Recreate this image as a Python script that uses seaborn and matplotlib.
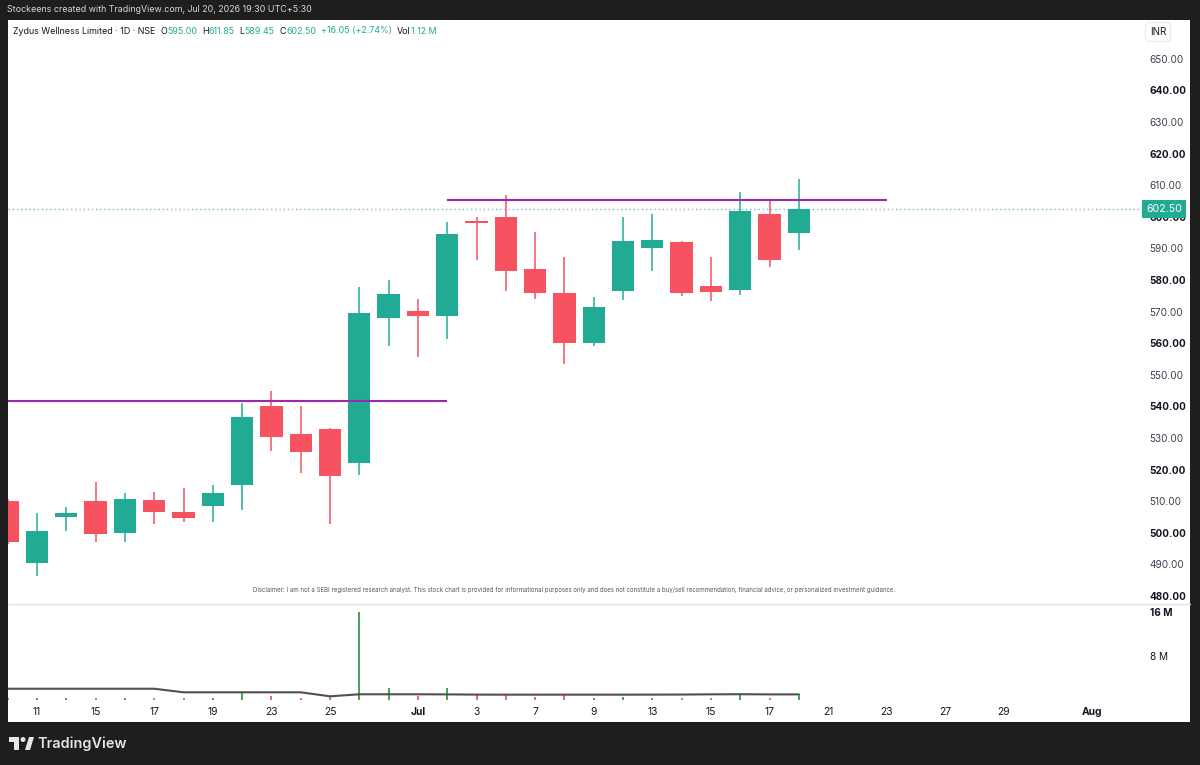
import numpy as np
import pandas as pd
import matplotlib
matplotlib.use("Agg")
import matplotlib.pyplot as plt
import seaborn as sns
from matplotlib import patches, transforms

# ---------------- data ----------------
credit = "Stockeens created with TradingView.com, Jul 20, 2026 19:30 UTC+5:30"
ticker = "Zydus Wellness Limited · 1D · NSE"
currency = "INR"
disclaimer = ("Disclaimer: I am not a SEBI registered research analyst. This stock chart is provided for "
              "informational purposes only and does not constitute a buy/sell recommendation, financial "
              "advice, or personalized investment guidance.")

holidays = ["2026-06-29"]
sessions = pd.bdate_range("2026-06-10", "2026-08-03").drop(pd.to_datetime(holidays))

opens  = [510.0, 490.4, 505.1, 510.2, 500.0, 510.3, 506.5, 508.5, 515.0, 540.2, 531.2, 532.9, 522.0, 568.1,
          570.1, 568.6, 598.7, 600.0, 583.5, 576.0, 560.0, 576.6, 590.1, 592.2, 578.0, 576.9, 600.8, 595.00]
highs  = [510.6, 506.2, 508.3, 516.2, 512.7, 513.0, 514.3, 515.1, 541.2, 545.0, 540.1, 533.2, 577.7, 580.0,
          574.0, 598.5, 600.0, 607.0, 595.1, 587.3, 574.8, 600.0, 601.0, 592.5, 587.3, 608.0, 605.4, 611.85]
lows   = [496.5, 486.4, 500.7, 497.0, 497.0, 502.8, 503.3, 503.5, 507.2, 526.0, 518.8, 502.8, 518.3, 559.2,
          555.5, 561.3, 586.3, 576.6, 574.0, 553.3, 559.2, 573.7, 583.0, 575.0, 573.4, 575.3, 584.1, 589.45]
closes = [497.0, 500.6, 506.3, 499.6, 510.6, 506.5, 504.8, 512.5, 536.7, 530.3, 525.6, 518.1, 569.5, 575.5,
          568.6, 594.6, 598.2, 583.0, 576.0, 560.0, 571.6, 592.5, 592.7, 576.0, 576.1, 602.0, 586.45, 602.50]
volumes_m = [0.35, 0.4, 0.35, 0.35, 0.35, 0.35, 0.35, 0.35, 1.35, 0.75, 0.4, 0.75, 16.0, 2.25,
             0.75, 2.2, 0.85, 1.0, 0.55, 1.0, 0.45, 0.6, 0.45, 0.3, 0.3, 0.85, 0.35, 1.12]
volume_ma_m = [2.05, 2.05, 2.05, 2.05, 2.05, 2.05, 1.4, 1.4, 1.4, 1.4, 1.4, 0.67, 1.04, 1.04,
               1.04, 1.02, 0.98, 0.97, 0.97, 0.97, 0.97, 0.97, 0.98, 0.99, 1.03, 1.05, 1.02, 1.02]

support_level = 541.7
support_span = ["2026-06-01", "2026-07-02"]
resistance_level = 605.4
resistance_span = ["2026-07-02", "2026-07-23"]

tick_dates = ["2026-06-11", "2026-06-15", "2026-06-17", "2026-06-19", "2026-06-23", "2026-06-25",
              "2026-07-01", "2026-07-03", "2026-07-07", "2026-07-09", "2026-07-13", "2026-07-15",
              "2026-07-17", "2026-07-21", "2026-07-23", "2026-07-27", "2026-07-29", "2026-08-03"]
tick_labels = ["11", "15", "17", "19", "23", "25", "Jul", "3", "7", "9", "13", "15", "17",
               "21", "23", "27", "29", "Aug"]
price_ticks = list(range(480, 651, 10))
volume_ticks_m = [8, 16]

# ---------------- styling ----------------
W, H = 1200, 765
UP, DOWN = "#22ab94", "#f7525f"
VUP, VDOWN = "#3a9b45", "#ef5b66"
DARK = "#1e1e1e"
INK = "#131722"
PURPLE = "#9c27b0"

sns.set_theme(style="white")
plt.rcParams["font.family"] = ["Inter", "DejaVu Sans"]

fig = plt.figure(figsize=(W / 100, H / 100), dpi=100, facecolor=DARK)

def fx(px):
    return px / W

def fy(py):
    return 1 - py / H

# white panel (behind everything)
fig.patches.append(patches.Rectangle((fx(8), fy(722)), fx(1182), (722 - 20) / H,
                                     transform=fig.transFigure, facecolor="white",
                                     edgecolor="none", zorder=-5))

ax = fig.add_axes([fx(8), fy(603), fx(1132), (603 - 45) / H])
axv = fig.add_axes([fx(8), fy(700), fx(1132), (700 - 603) / H], sharex=ax)
for a in (ax, axv):
    a.set_facecolor("none")
    a.set_zorder(1)
    for s in a.spines.values():
        s.set_visible(False)
    a.grid(False)

n = len(opens)
df = pd.DataFrame({"date": sessions[:n], "open": opens, "high": highs, "low": lows,
                   "close": closes, "vol": volumes_m, "vol_ma": volume_ma_m})
pos = {d: i for i, d in enumerate(sessions)}
df["x"] = [pos[d] for d in df["date"]]
df["up"] = df["close"] >= df["open"]
df["color"] = np.where(df["up"], UP, DOWN)
df["vcolor"] = np.where(df["up"], VUP, VDOWN)

# candles
ax.vlines(df["x"], df["low"], df["high"], colors=df["color"], lw=1.1, zorder=2)
body_lo = np.minimum(df["open"], df["close"])
body_h = np.maximum(np.abs(df["close"] - df["open"]), 0.45)
ax.bar(df["x"], body_h, bottom=body_lo, width=0.76, color=df["color"], edgecolor="none", zorder=3)

def sess_x(d):
    d = pd.Timestamp(d)
    if d in pos:
        return pos[d]
    return (d - sessions[0]).days * 5 / 7

ax.hlines(support_level, sess_x(support_span[0]), sess_x(support_span[1]), color=PURPLE, lw=1.5, zorder=4)
ax.hlines(resistance_level, sess_x(resistance_span[0]), sess_x(resistance_span[1]), color=PURPLE, lw=1.5, zorder=4)

last_close = closes[-1]
ax.axhline(last_close, color="#7fb6c9", lw=1, ls=(0, (1, 2)), zorder=1)

ax.set_ylim(477.8, 654.4)
ax.set_xlim(0.01, 38.645)
ax.yaxis.tick_right()
ax.set_yticks(price_ticks)
ax.set_yticklabels([f"{v:.2f}" for v in price_ticks])
ax.tick_params(axis="y", length=0, pad=7, labelsize=7.2, labelcolor=INK)
for lab, v in zip(ax.get_yticklabels(), price_ticks):
    lab.set_fontweight("bold" if v % 20 == 0 else "normal")
    if v % 20 != 0:
        lab.set_color("#3d4150")
ax.tick_params(axis="x", bottom=False, labelbottom=False)

# price label
ax.annotate(f"{last_close:.2f}", xy=(1.0, last_close), xycoords=("axes fraction", "data"),
            xytext=(4.5, 0), textcoords="offset points", ha="left", va="center",
            fontsize=7.6, color="white", zorder=10, annotation_clip=False,
            bbox=dict(boxstyle="square,pad=0.36", fc=UP, ec="none"))

# volume pane
axv.vlines(df["x"], 0, df["vol"], colors=df["vcolor"], lw=1.3, zorder=2)
sns.lineplot(data=df, x="x", y="vol_ma", ax=axv, color="#505050", lw=1.5, zorder=3)
axv.set_ylim(0, 17.64)
axv.set_ylabel("")
axv.set_xlabel("")
axv.yaxis.tick_right()
axv.set_yticks(volume_ticks_m)
axv.set_yticklabels([f"{v} M" for v in volume_ticks_m])
axv.tick_params(axis="y", length=0, pad=7, labelsize=7.2, labelcolor=INK)
for lab, v in zip(axv.get_yticklabels(), volume_ticks_m):
    lab.set_fontweight("bold" if v == 16 else "normal")
axv.set_xticks([pos[pd.Timestamp(d)] for d in tick_dates])
axv.set_xticklabels(tick_labels)
axv.tick_params(axis="x", length=0, pad=5, labelsize=7.4, labelcolor=INK)
for lab in axv.get_xticklabels():
    if not lab.get_text().isdigit():
        lab.set_fontweight("bold")

# pane divider
fig.add_artist(plt.Line2D([fx(8), fx(1190)], [fy(603.5), fy(603.5)], color="#e3e4e8", lw=1,
                          transform=fig.transFigure, zorder=0.5))

# INR box
fig.text(fx(1158), fy(32), currency, ha="center", va="center", fontsize=7, color=INK,
         bbox=dict(boxstyle="round,pad=0.45,rounding_size=0.3", fc="white", ec="#e8e9ee", lw=0.8))

# disclaimer
fig.text(fx(574), fy(590), disclaimer, ha="center", va="center", fontsize=4.42, color="#555a66")

# credit line
fig.text(fx(7), fy(10), credit, ha="left", va="center", fontsize=6.4, color="#d8d8d8")

# header legend chained
fig.canvas.draw()
renderer = fig.canvas.get_renderer()
o, h, l, c = opens[-1], highs[-1], lows[-1], closes[-1]
chg = c - closes[-2]
pct = chg / closes[-2] * 100
pieces = [(ticker, INK, 5), ("O", INK, 0), (f"{o:.2f}", UP, 5), ("H", INK, 0), (f"{h:.2f}", UP, 5),
          ("L", INK, 0), (f"{l:.2f}", UP, 5), ("C", INK, 0), (f"{c:.2f}", UP, 5),
          (f"{chg:+.2f} ({pct:+.2f}%)", UP, 5), ("Vol", INK, 0), (f"{volumes_m[-1]:.2f} M", UP, 0)]
xcur = 13
for txt, col, gap in pieces:
    t = fig.text(fx(xcur), fy(31), txt, ha="left", va="center", fontsize=6.4, color=col)
    xcur += t.get_window_extent(renderer).width + gap

# TradingView logo
fig.patches.append(patches.Rectangle((fx(9), fy(742)), fx(10), 5 / H, transform=fig.transFigure,
                                     fc="#e6e6e6", ec="none"))
fig.patches.append(patches.Rectangle((fx(14), fy(750)), fx(5), 13 / H, transform=fig.transFigure,
                                     fc="#e6e6e6", ec="none"))
fig.patches.append(patches.Ellipse((fx(23), fy(739.5)), fx(5), 5 / H, transform=fig.transFigure,
                                   fc="#e6e6e6", ec="none"))
fig.patches.append(patches.Polygon([(fx(25), fy(750)), (fx(29), fy(737)), (fx(34), fy(737)), (fx(30), fy(750))],
                                   closed=True, transform=fig.transFigure, fc="#e6e6e6", ec="none"))
fig.text(fx(37), fy(744), "TradingView", ha="left", va="center", fontsize=10.4, color="#e6e6e6",
         fontweight="semibold")

fig.savefig("out.png", dpi=100, facecolor=DARK)
